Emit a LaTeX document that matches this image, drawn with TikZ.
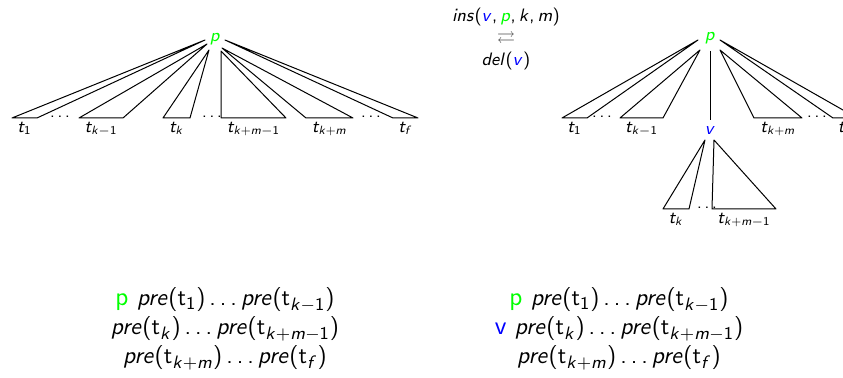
\documentclass[tikz,border=0pt]{standalone}
\usepackage{amssymb}
\renewcommand\familydefault{\sfdefault}
% sans serif math, as in slides
\SetSymbolFont{operators}{normal}{OT1}{cmss}{m}{n}
\SetSymbolFont{letters}{normal}{OT1}{cmss}{m}{sl}
\DeclareMathSymbol{,}{\mathpunct}{operators}{"2C}
\DeclareMathSymbol{\ldotp}{\mathpunct}{operators}{"2E}

\begin{document}
\begin{tikzpicture}[x=.5pt,y=-.5pt,line join=round,line width=.5pt,
  lbl/.style={below,inner sep=2pt,font=\small},
  dts/.style={anchor=base,inner sep=0pt,font=\footnotesize},
  seq/.style={align=center,font=\fontsize{13}{14.5}\selectfont}]
  \useasboundingbox (0,0) rectangle (843,378);

  % left: p with all children
  \node[green,font=\small] (pL) at (215,39) {$p$};
  \foreach \ax/\ay/\bl/\br/\nm/\lab in {205/40/12/37/a/t_1,207/44/79/123/b/t_{k-1},
      209/50/163/190/c/t_k,221/51/221/286/d/t_{k+m-1},222/48/306/353/e/t_{k+m},
      225/40/393/418/f/t_f}{
    \draw (\ax,\ay) -- (\bl,118) -- (\br,118) -- cycle;
    \node[lbl] (L\nm) at ({(\bl+\br)/2},118) {$\lab$};
  }
  \node[dts] (Ld1) at (60,118) {$\dots$};
  \node[dts] (Ld2) at (212,118) {$\dots$};
  \node[dts] (Ld3) at (371,118) {$\dots$};

  % the two operations
  \node[font=\small,align=center] (ops) at (506,39)
    {$ins({\color{blue}v},{\color{green}p},k,m)$\\
     {\color{black!70}$\rightleftarrows$}\\
     $del({\color{blue}v})$};

  % right: t_k .. t_{k+m-1} moved below v
  \node[green,font=\small] (pR) at (710,38) {$p$};
  \node[blue,font=\small] (v) at (710,131) {$v$};
  \draw (pR) -- (v);
  \foreach \ax/\ay/\bl/\br/\nm/\lab in {698/40/562/587/a/t_1,700/50/620/663/b/t_{k-1},
      720/50/754/802/e/t_{k+m},720/40/833/857/f/t_f}{
    \draw (\ax,\ay) -- (\bl,118) -- (\br,118) -- cycle;
    \node[lbl] (R\nm) at ({(\bl+\br)/2},118) {$\lab$};
  }
  \foreach \ax/\bl/\br/\nm/\lab in {705/663/689/c/t_k,714/712/776/d/t_{k+m-1}}{
    \draw (\ax,140) -- (\bl,209) -- (\br,209) -- cycle;
    \node[lbl] (V\nm) at ({(\bl+\br)/2},209) {$\lab$};
  }
  \node[dts] (Rd1) at (602,118) {$\dots$};
  \node[dts] (Rd2) at (817,118) {$\dots$};
  \node[dts] (Vd) at (707,209) {$\dots$};

  % preorder sequences
  \node[seq] (seqL) at (225,329)
    {{\color{green}p} $pre(\mathrm{t}_1)\ldots pre(\mathrm{t}_{k-1})$\\
     $pre(\mathrm{t}_k)\ldots pre(\mathrm{t}_{k+m-1})$\\
     $pre(\mathrm{t}_{k+m})\ldots pre(\mathrm{t}_f)$};
  \node[seq] (seqR) at (619,329)
    {{\color{green}p} $pre(\mathrm{t}_1)\ldots pre(\mathrm{t}_{k-1})$\\
     {\color{blue}v} $pre(\mathrm{t}_k)\ldots pre(\mathrm{t}_{k+m-1})$\\
     $pre(\mathrm{t}_{k+m})\ldots pre(\mathrm{t}_f)$};
\end{tikzpicture}
\end{document}
